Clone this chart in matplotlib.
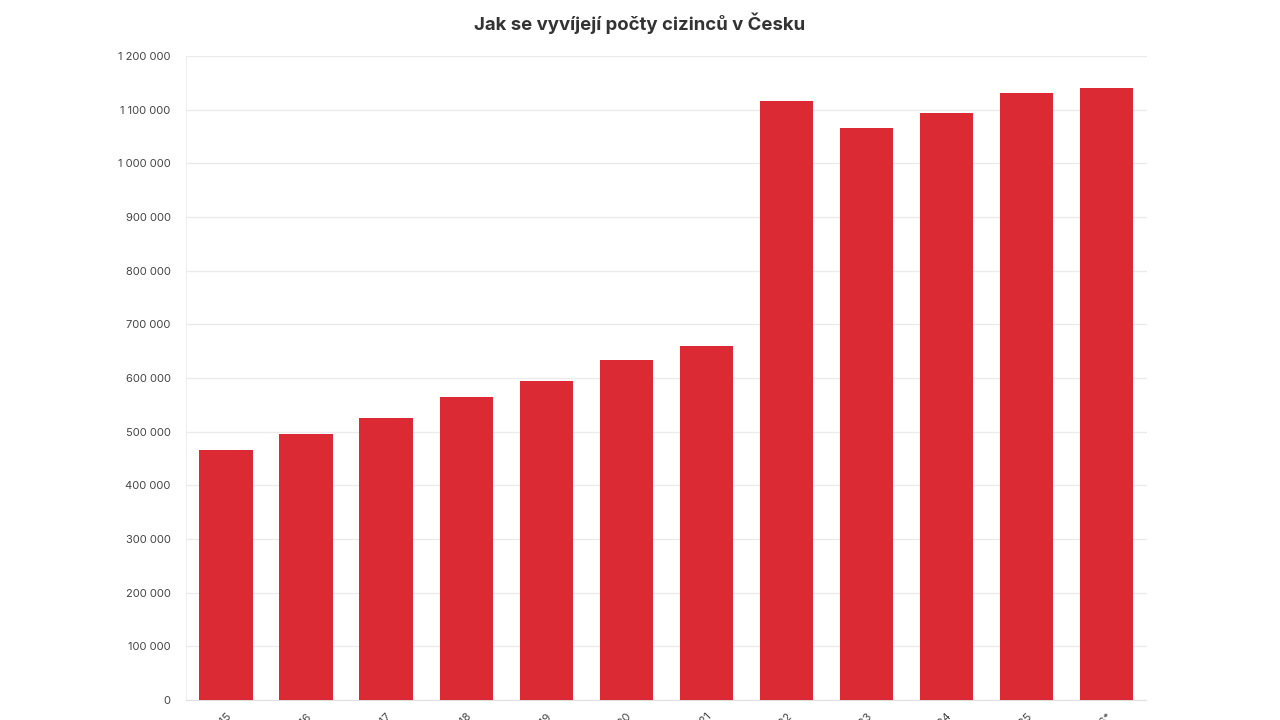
import matplotlib
matplotlib.use("Agg")
import matplotlib.pyplot as plt
from matplotlib.ticker import FuncFormatter

plt.rcParams['font.family'] = ['Inter', 'DejaVu Sans']

years = ["2015", "2016", "2017", "2018", "2019", "2020", "2021", "2022", "2023", "2024", "2025", "2026*"]
values = [466000, 496000, 525000, 565000, 594000, 634000, 660000, 1116000, 1066000, 1094000, 1131000, 1140000]
title = "Jak se vyvíjejí počty cizinců v Česku"

fig = plt.figure(figsize=(12.8, 7.2), dpi=100)
ax = fig.add_axes([186/1280, 20/720, (1146.5-186)/1280, 644/720])

x = range(len(years))
ax.bar(x, values, width=0.665, color='#DC2A35', zorder=3)
ax.set_xlim(-0.5, len(years) - 0.5)
ax.set_ylim(0, 1200000)
ax.set_yticks(range(0, 1200001, 100000))
ax.yaxis.set_major_formatter(FuncFormatter(lambda v, p: f"{int(v):,}".replace(",", " ")))
ax.grid(axis='y', color='#ebebeb', linewidth=1, zorder=0)
ax.set_xticks(list(x))
ax.set_xticklabels(years, rotation=45, ha='right', va='top', rotation_mode='anchor')
for lbl in ax.get_xticklabels():
    lbl.set_fontsize(8)
    lbl.set_color('#444444')
ax.tick_params(axis='x', length=0, pad=8)
ax.tick_params(axis='y', length=0, pad=11, labelsize=8, labelcolor='#444444')
for s in ['top', 'right']:
    ax.spines[s].set_visible(False)
ax.spines['left'].set_color('#eeeeee')
ax.spines['bottom'].set_color('#e0e0e0')
ax.set_axisbelow(True)

fig.text(640/1280, 1 - 23/720, title, ha='center', va='center', fontsize=13.4, fontweight='bold', color='#333333')

fig.savefig("out.png", dpi=100)
